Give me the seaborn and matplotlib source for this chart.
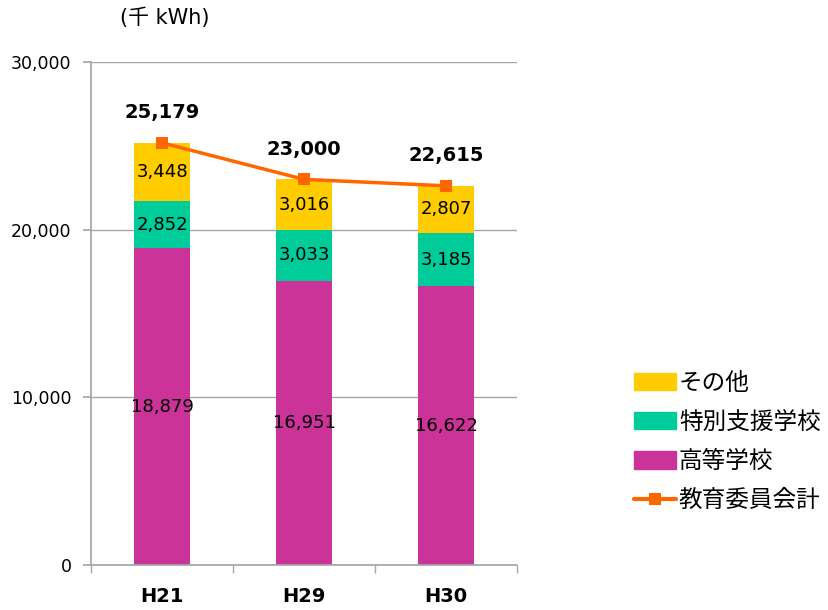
import numpy as np
import pandas as pd
import matplotlib
matplotlib.use("Agg")
import matplotlib.pyplot as plt
import seaborn as sns
from matplotlib.patches import Patch
from matplotlib.lines import Line2D

categories = ["H21", "H29", "H30"]
koto = [18879, 16951, 16622]
tokubetsu = [2852, 3033, 3185]
sonota = [3448, 3016, 2807]
total = [25179, 23000, 22615]

series_names = ["高等学校", "特別支援学校", "その他"]
line_name = "教育委員会計"
colors = {"高等学校": "#CC3399", "特別支援学校": "#00CC99", "その他": "#FFCC00"}
line_color = "#FF6600"

sns.set_theme(style="white")
plt.rcParams["font.family"] = ["DejaVu Sans", "Noto Sans CJK JP"]
plt.rcParams["text.color"] = "black"
jp = ["Noto Sans CJK JP", "DejaVu Sans"]

fig = plt.figure(figsize=(8.29, 6.10), dpi=100)
ax = fig.add_axes([91/829, 45/610, (517-91)/829, (565-62)/610])

df = pd.DataFrame({"cat": categories, "koto": koto, "tok": tokubetsu, "son": sonota})
df["c1"] = df["koto"]
df["c2"] = df["koto"] + df["tok"]
df["c3"] = df["c2"] + df["son"]

for col, name in [("c3", "その他"), ("c2", "特別支援学校"), ("c1", "高等学校")]:
    sns.barplot(data=df, x="cat", y=col, color=colors[name], width=0.4,
                saturation=1, linewidth=0, ax=ax, zorder=2)

sns.lineplot(x=categories, y=total, sort=False, color=line_color, linewidth=2.5,
             marker="s", markersize=8, markeredgewidth=0, ax=ax, zorder=4)

# segment labels
for i in range(len(categories)):
    bottoms = [0, koto[i], koto[i] + tokubetsu[i]]
    vals = [koto[i], tokubetsu[i], sonota[i]]
    for b, v in zip(bottoms, vals):
        ax.text(i, b + v / 2, f"{v:,}", ha="center", va="center", fontsize=13,
                color="black", zorder=5)
    ax.annotate(f"{total[i]:,}", (i, total[i]), xytext=(0, 15), textcoords="offset points",
                ha="center", va="bottom", fontsize=14, fontweight="bold", color="black", zorder=5)

ax.set_ylim(0, 30000)
ax.set_xlim(-0.5, 2.5)
ax.set_yticks([0, 10000, 20000, 30000])
ax.set_yticklabels([f"{v:,}" for v in [0, 10000, 20000, 30000]], fontsize=12.5)
ax.set_xticks([0, 1, 2])
ax.set_xticklabels(categories, fontsize=14, fontweight="bold")
ax.set_xlabel("")
ax.set_ylabel("")
ax.yaxis.grid(True, color="#A6A6A6", linewidth=1, zorder=0)
ax.set_axisbelow(True)
for s in ["top", "right"]:
    ax.spines[s].set_visible(False)
ax.spines["left"].set_color("#A6A6A6")
ax.spines["bottom"].set_color("#A6A6A6")
ax.tick_params(axis="y", length=6, color="#A6A6A6", labelcolor="black", direction="out", pad=8, left=True)
ax.tick_params(axis="x", length=0, pad=16, labelcolor="black")
# category boundary ticks
ax.set_xticks([-0.5, 0.5, 1.5, 2.5], minor=True)
ax.tick_params(axis="x", which="minor", length=6, color="#A6A6A6", direction="out", bottom=True)

fig.text(120/829, 1 - 18/610, "(千 kWh)", fontsize=15, va="center", ha="left",
         family=["DejaVu Sans", "Noto Sans CJK JP"], color="black")

handles = [Patch(color=colors["その他"]), Patch(color=colors["特別支援学校"]),
           Patch(color=colors["高等学校"]),
           Line2D([0], [0], color=line_color, linewidth=3, marker="s", markersize=9, markeredgewidth=0)]
labels = ["その他", "特別支援学校", "高等学校", line_name]
leg = fig.legend(handles, labels, loc="upper left", bbox_to_anchor=(634/829, 1 - 372/610),
                 frameon=False, prop={"family": jp, "size": 17}, handlelength=1.8,
                 handleheight=0.75, labelspacing=0.68, handletextpad=0.1,
                 borderpad=0, borderaxespad=0, labelcolor="black")

fig.savefig("out.png", dpi=100)
